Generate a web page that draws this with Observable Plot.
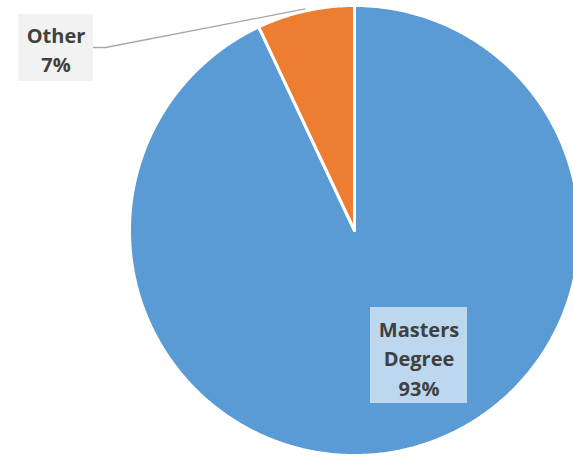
<!DOCTYPE html>
<html><head><meta charset="utf-8">
<script src="https://cdn.jsdelivr.net/npm/d3@7"></script>
<script src="https://cdn.jsdelivr.net/npm/@observablehq/plot@0.6"></script>
<style>body{margin:0;background:#fff}</style>
</head><body><div id="chart"></div>
<script>
const categories = ["Masters Degree", "Other"];
const shares = [93, 7];
const labelLines = [["Masters", "Degree", "93%"], ["Other", "7%"]];
const colors = ["#5b9bd5", "#ed7d31"];

const W = 573, H = 456;
const cx = 354, cy = 230, R = 225;

const pie = d3.pie().sort(null).value(d => d.value);
const arcs = pie(categories.map((c, i) => ({name: c, value: shares[i], color: colors[i]})));

// slice polygons (points generated from the pie angles)
const slicePts = [];
arcs.forEach(a => {
  const n = Math.max(4, Math.ceil((a.endAngle - a.startAngle) * 120));
  slicePts.push({name: a.data.name, x: cx, y: cy});
  for (let k = 0; k <= n; k++) {
    const t = a.startAngle + (a.endAngle - a.startAngle) * k / n;
    slicePts.push({name: a.data.name, x: cx + R * Math.sin(t), y: cy - R * Math.cos(t)});
  }
  slicePts.push({name: a.data.name, x: cx, y: cy});
});

// label boxes (layout)
const boxes = [
  {name: "Masters Degree", x1: 370, x2: 467, y1: 307, y2: 403, fill: "#bdd7ee", tx: 418.5, ty: 336},
  {name: "Other", x1: 18, x2: 93, y1: 14, y2: 81, fill: "#f2f2f2", tx: 55.5, ty: 42}
];
const texts = [];
boxes.forEach(b => {
  const i = categories.indexOf(b.name);
  labelLines[i].forEach((t, j) => texts.push({text: t, x: b.tx, y: b.ty + j * 29.5}));
});

// leader line for Other
const oa = arcs[1];
const mid = (oa.startAngle + oa.endAngle) / 2;
const leader = [
  {x: 93, y: 47},
  {x: 105, y: 47},
  {x: cx + (R + 2) * Math.sin(mid), y: cy - (R + 2) * Math.cos(mid)}
];

const chart = Plot.plot({
  width: W, height: H,
  margin: 0,
  x: {domain: [0, W], range: [0, W], axis: null},
  y: {domain: [0, H], range: [0, H], axis: null},
  marks: [
    Plot.line(slicePts, {x: "x", y: "y", z: "name",
      fill: d => colors[categories.indexOf(d.name)],
      stroke: "white", strokeWidth: 3, strokeLinejoin: "miter", curve: "linear"}),
    Plot.line(leader, {x: "x", y: "y", stroke: "#a6a6a6", strokeWidth: 1.3}),
    Plot.rect(boxes, {x1: "x1", x2: "x2", y1: "y1", y2: "y2", fill: "fill"}),
    Plot.text(texts, {x: "x", y: "y", text: "text", fill: "#404040",
      fontSize: 20, fontWeight: "bold", fontFamily: "Open Sans", lineAnchor: "bottom"})
  ]
});
document.getElementById("chart").append(chart);
</script>
</body></html>
